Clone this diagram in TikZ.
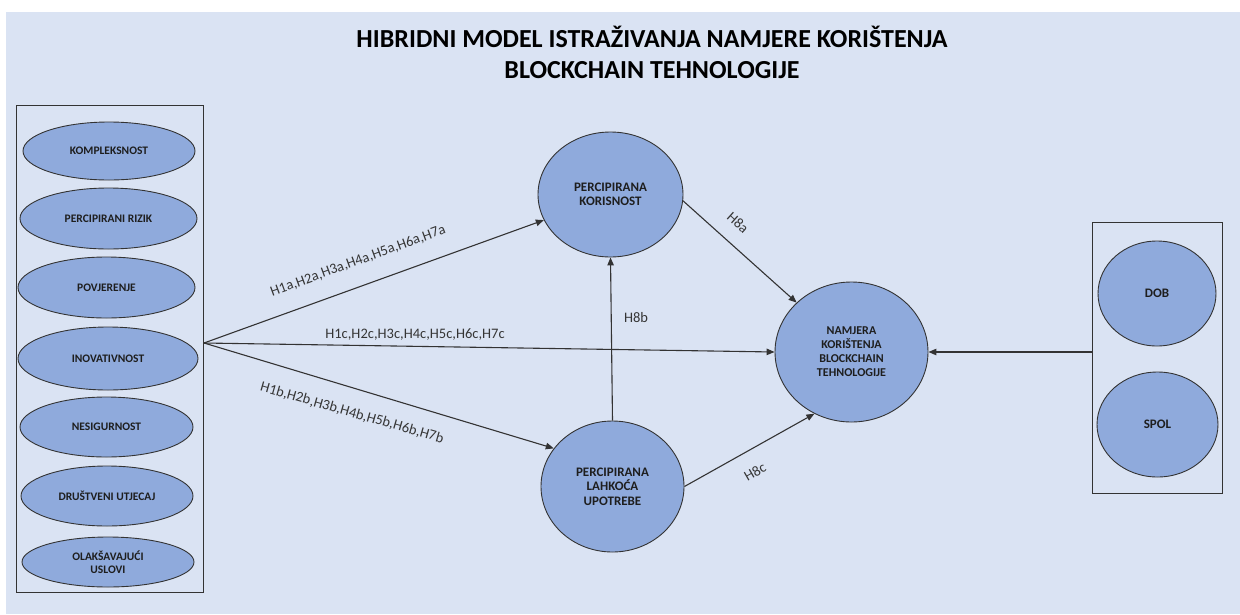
\documentclass[tikz,border=0pt]{standalone}
\usepackage{fontspec}
\setmainfont{Carlito}
\usetikzlibrary{arrows.meta,shapes.geometric}
\definecolor{canvas}{HTML}{DAE3F3}
\definecolor{ellfill}{HTML}{8FAADC}
\definecolor{ink}{HTML}{1E1E1E}
\definecolor{rule}{HTML}{333333}

\begin{document}
\begin{tikzpicture}[x=1pt,y=-1pt,
  frame/.style={rectangle, draw=rule, line width=1pt, inner sep=0pt},
  size/.style 2 args={minimum width=#1pt, minimum height=#2pt},
  factor/.style={ellipse, draw=rule, line width=0.9pt, fill=ellfill, inner sep=0pt,
    align=center, text=ink, font=\bfseries\fontsize{11.5}{13}\selectfont},
  construct/.style={factor, font=\bfseries\fontsize{13}{14.5}\selectfont},
  link/.style={draw=rule, line width=1.1pt, -{Triangle[length=8pt,width=6.5pt]}},
  hyp/.style={text=ink!90, inner sep=0pt, font=\fontsize{14.5}{16}\selectfont},
  title/.style={align=center, text=black, font=\bfseries\fontsize{26}{31}\selectfont}
]
% page and background panel
\path[use as bounding box] (0,0) rectangle (1240,614);
\fill[canvas] (6,12) rectangle (1240,614);

% heading
\node[title] (heading) at (652,52)
  {HIBRIDNI MODEL ISTRAŽIVANJA NAMJERE KORIŠTENJA\\BLOCKCHAIN TEHNOLOGIJE};

% external factors
\node[frame, size={187}{487}] (leftbox) at (109.5,348.5) {};
\node[factor, size={172}{58}] (komp)  at (109,151)   {KOMPLEKSNOST};
\node[factor, size={177}{61}] (rizik) at (108.5,218.5) {PERCIPIRANI RIZIK};
\node[factor, size={177}{61}] (povj)  at (106.5,287.5) {POVJERENJE};
\node[factor, size={180}{63}] (inov)  at (108,358.5) {INOVATIVNOST};
\node[factor, size={173}{60}] (nesig) at (106.5,427) {NESIGURNOST};
\node[factor, size={172}{60}] (drus)  at (107,496)   {DRUŠTVENI UTJECAJ};
\node[factor, size={172}{50}] (olak)  at (108,562)   {OLAKŠAVAJUĆI\\USLOVI};

% mediators and outcome
\node[construct, size={145}{125}] (kor) at (610.5,194.5) {PERCIPIRANA\\KORISNOST};
\node[construct, size={143}{131}] (lah) at (612.5,486.5) {PERCIPIRANA\\LAHKOĆA\\UPOTREBE};
\node[factor, font=\bfseries\fontsize{12}{14}\selectfont, size={153}{140}] (nam) at (851.5,352)
  {NAMJERA\\KORIŠTENJA\\BLOCKCHAIN\\TEHNOLOGIJE};

% moderators
\node[frame, size={130}{271}] (rightbox) at (1157,357.5) {};
\node[construct, size={118}{105}] (dob)  at (1157,293.5)   {DOB};
\node[construct, size={121}{105}] (spol) at (1157.5,424.5) {SPOL};

% paths
\coordinate (fan) at (204,343);
\draw[link] (fan) -- (kor.201);
\draw[link] (fan) -- (nam.west);
\draw[link] (fan) -- (lah.147);
\draw[link] (lah.north) -- (kor.south);
\draw[link] (kor.355) -- (nam.138);
\draw[link] (lah.east) -- (nam.239);
\draw[link] (rightbox.west |- nam.center) -- (nam.east);

% hypothesis labels
\node[hyp, rotate=20]  (ha)  at (358,261) {H1a,H2a,H3a,H4a,H5a,H6a,H7a};
\node[hyp]             (hc)  at (415,335) {H1c,H2c,H3c,H4c,H5c,H6c,H7c};
\node[hyp, rotate=-16] (hb)  at (352,413) {H1b,H2b,H3b,H4b,H5b,H6b,H7b};
\node[hyp]             (h8b) at (636,318) {H8b};
\node[hyp, rotate=-42] (h8a) at (738,223) {H8a};
\node[hyp, rotate=30]  (h8c) at (755,472) {H8c};
\end{tikzpicture}
\end{document}
